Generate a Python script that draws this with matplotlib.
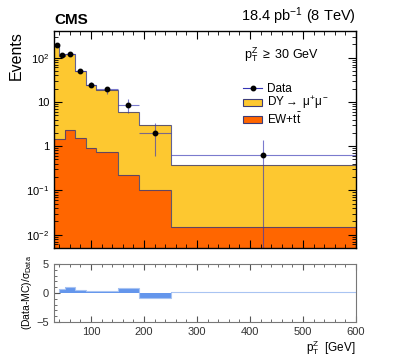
import numpy as np
import matplotlib
matplotlib.use("Agg")
import matplotlib.pyplot as plt
from matplotlib.ticker import FixedLocator, FuncFormatter, MultipleLocator
from matplotlib.patches import Patch
from matplotlib.lines import Line2D

plt.rcParams['font.family'] = ['Liberation Sans', 'DejaVu Sans']
plt.rcParams['mathtext.fontset'] = 'custom'
plt.rcParams['mathtext.rm'] = 'Liberation Sans'
plt.rcParams['mathtext.it'] = 'Liberation Sans'

# bin edges in pT^Z [GeV]
edges = [30, 40, 50, 70, 90, 110, 150, 190, 250, 600]
# stacked MC: EW+ttbar at bottom, DY on top
ew = [1.49, 1.49, 2.37, 1.54, 0.92, 0.73, 0.22, 0.10, 0.0149]
dy = [203.5, 105.5, 118.6, 47.5, 22.6, 18.1, 5.7, 2.97, 0.355]
# data
data_y = [193, 115, 123, 51, 24.7, 19.4, 8.65, 2.03, 0.62]
data_lo = [12, 9, 9, 5, 3.3, 4.1, 3.05, 1.43, 0.62]
data_hi = [12, 9, 9, 5, 3.2, 2.0, 2.75, 1.37, 0.74]
# (Data-MC)/sigma_Data
pull = [0.05, 0.64, 1.09, 0.52, 0.29, 0.40, 0.86, -0.80, 0.12]

edges = np.array(edges)
ew = np.array(ew)
dy = np.array(dy)
total = ew + dy
centers = 0.5 * (edges[:-1] + edges[1:])
halfw = 0.5 * (edges[1:] - edges[:-1])

yellow = '#fdc830'
orange = '#ff6600'
edgecol = '#3c3c78'
blue = '#3535b5'

fig = plt.figure(figsize=(3.99, 3.59), dpi=100)
ax = fig.add_axes([0.1353, 0.3092, 0.757, 0.6044])
rax = fig.add_axes([0.1353, 0.1031, 0.757, 0.1616])

ax.stairs(total, edges, fill=True, color=yellow, baseline=1e-4)
ax.stairs(total, edges, color=edgecol, lw=0.8, alpha=0.8, baseline=None)
ax.stairs(ew, edges, fill=True, color=orange, baseline=1e-4)
ax.stairs(ew, edges, color=edgecol, lw=0.8, alpha=0.8, baseline=None)

ax.errorbar(centers, data_y, xerr=halfw, yerr=[data_lo, data_hi], fmt='none',
            ecolor=blue, elinewidth=0.8, alpha=0.65, capsize=0)
ax.plot(centers, data_y, 'o', color='black', ms=3.2)

ax.set_yscale('log')
ax.set_xlim(30, 600)
ax.set_ylim(0.005, 400)
ax.yaxis.set_major_locator(FixedLocator([0.01, 0.1, 1, 10, 100]))


def logfmt(v, pos):
    if v == 1:
        return '1'
    if v == 10:
        return '10'
    return r'$10^{%d}$' % int(round(np.log10(v)))


ax.yaxis.set_major_formatter(FuncFormatter(logfmt))
ax.xaxis.set_major_locator(MultipleLocator(100))
ax.xaxis.set_minor_locator(MultipleLocator(20))
ax.tick_params(axis='both', which='both', direction='in', top=True, right=True,
               labelsize=8)
ax.tick_params(axis='both', which='major', length=6)
ax.tick_params(axis='both', which='minor', length=3)
ax.tick_params(axis='x', labelbottom=False)
for s in ax.spines.values():
    s.set_linewidth(1.0)

ax.set_ylabel('Events', fontsize=11.5, loc='top', labelpad=2)

fig.text(0.1353, 0.925, 'CMS', fontsize=11, fontweight='bold', ha='left', va='bottom')
fig.text(0.892, 0.925, r'18.4 pb$^{-1}$ (8 TeV)', fontsize=10.5, ha='right', va='bottom')
ax.text(0.63, 0.89, r'$\mathregular{p_{T}^{Z}}$ $\geq$ 30 GeV', transform=ax.transAxes,
        fontsize=9, ha='left', va='center')

handles = [
    Line2D([0], [0], color=blue, lw=0.8, marker='o', mfc='black', mec='black', ms=3.2),
    Patch(facecolor=yellow, edgecolor=edgecol, lw=0.8),
    Patch(facecolor=orange, edgecolor=edgecol, lw=0.8),
]
labels = ['Data', r'DY$\rightarrow$ $\mu^{+}\mu^{-}$', r'EW+t$\bar{\mathregular{t}}$']
ax.legend(handles, labels, loc='upper left', bbox_to_anchor=(0.6, 0.8), frameon=False,
          fontsize=8.5, handlelength=1.6, handleheight=0.6, labelspacing=0.0,
          borderpad=0.2, handletextpad=0.4)

# ratio panel
rax.stairs(pull, edges, fill=True, color='#6496ec', baseline=0)
rax.stairs(pull, edges, color='#a9c4f2', lw=0.8, baseline=None)
rax.set_xlim(30, 600)
rax.set_ylim(-5, 5)
rax.set_yticks([-5, 0, 5])
rax.set_yticklabels([u'\u22125', '0', '5'])
rax.xaxis.set_major_locator(MultipleLocator(100))
rax.xaxis.set_minor_locator(MultipleLocator(20))
rax.yaxis.set_minor_locator(MultipleLocator(1))
rax.tick_params(axis='both', which='both', direction='in', top=True, right=False,
                labelsize=8, colors='#555555', labelcolor='#333333')
rax.tick_params(axis='both', which='major', length=4)
rax.tick_params(axis='both', which='minor', length=2)
for s in rax.spines.values():
    s.set_color('#777777')
rax.set_ylabel(r'(Data-MC)/$\sigma_{\mathregular{Data}}$', fontsize=7.5, labelpad=2)
rax.set_xlabel(r'$\mathregular{p_{T}^{Z}}$  [GeV]', fontsize=8.5, loc='right', labelpad=1)

fig.savefig('out.png', dpi=100)
